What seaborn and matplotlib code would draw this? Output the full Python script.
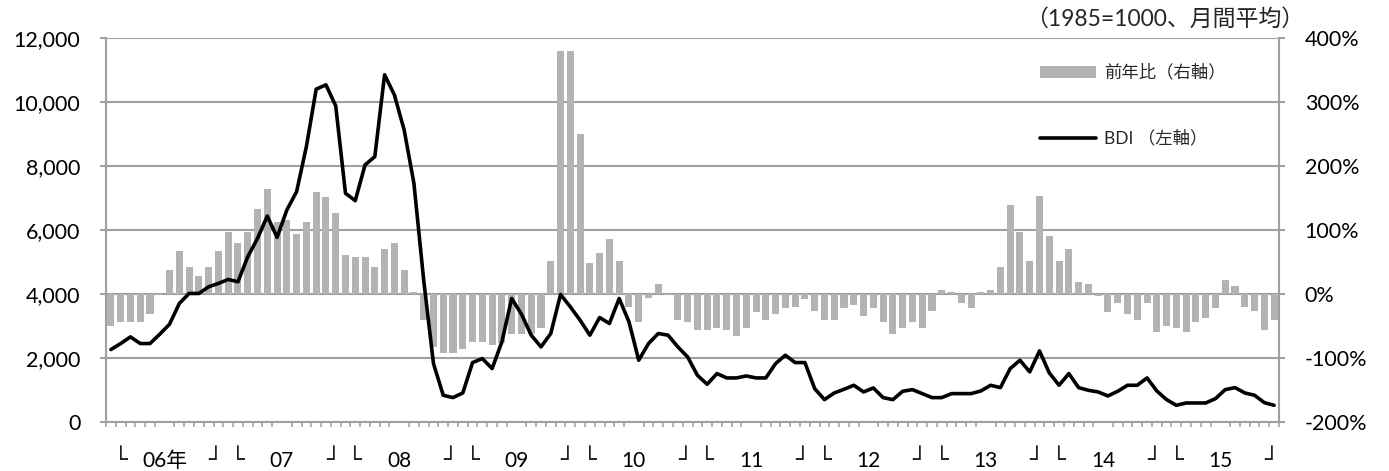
import numpy as np
import pandas as pd
import matplotlib
matplotlib.use("Agg")
import matplotlib.pyplot as plt
from matplotlib.patches import Patch
from matplotlib.lines import Line2D
import matplotlib.transforms as mtransforms
import seaborn as sns

# Monthly Baltic Dry Index (1985=1000, monthly average), Jan 2006 - Dec 2015
bdi = [2264, 2452, 2660, 2452, 2452, 2744, 3057, 3704, 4017, 4017, 4225, 4330,
       4455, 4382, 5164, 5738, 6437, 5769, 6625, 7199, 8607, 10401, 10537, 9880,
       7147, 6917, 8033, 8294, 10850, 10224, 9129, 7460, 4434, 1826, 835, 762,
       908, 1857, 1982, 1669, 2504, 3860, 3370, 2713, 2347, 2765, 3985, 3599,
       3182, 2713, 3265, 3078, 3860, 3130, 1930, 2452, 2765, 2713, 2347, 2034,
       1461, 1179, 1513, 1377, 1377, 1440, 1377, 1377, 1826, 2086, 1857, 1857,
       1043, 699, 908, 1022, 1148, 939, 1064, 762, 699, 960, 1012, 887,
       762, 762, 887, 887, 887, 970, 1148, 1075, 1669, 1930, 1565, 2222,
       1534, 1148, 1513, 1075, 991, 939, 814, 960, 1148, 1148, 1377, 970,
       699, 522, 595, 595, 595, 730, 1012, 1075, 908, 835, 605, 522]

# Year-on-year change (%)
yoy = [-49.6, -44.3, -44.3, -44.3, -31.8, -2.0, 37.6, 67.3, 42.8, 28.2, 42.8, 67.3,
       97.0, 79.3, 97.0, 133.0, 163.3, 112.2, 115.3, 94.4, 112.2, 160.1, 151.3, 127.3,
       61.0, 57.9, 57.9, 42.8, 69.9, 79.3, 37.6, 3.7, -40.7, -82.4, -91.8, -91.8,
       -86.1, -74.6, -74.6, -79.8, -77.2, -62.6, -62.6, -62.6, -52.7, 52.2, 380.3, 380.3,
       250.4, 49.0, 64.7, 85.6, 52.2, -19.8, -44.3, -6.8, 15.6, -2.0, -40.7, -44.3,
       -56.3, -56.3, -52.7, -56.3, -65.2, -52.7, -28.7, -40.7, -31.8, -22.4, -19.8, -7.3,
       -26.1, -40.7, -40.7, -22.4, -17.2, -34.4, -22.4, -44.3, -62.1, -52.7, -44.3, -52.7,
       -26.1, 6.3, 3.1, -13.6, -22.4, 3.1, 6.3, 42.8, 139.3, 97.0, 52.2, 153.9,
       90.8, 52.2, 69.9, 18.8, 15.6, -3.0, -28.7, -13.6, -31.8, -40.7, -13.6, -58.9,
       -49.6, -52.7, -58.9, -43.8, -37.6, -22.4, 21.9, 12.5, -19.8, -26.1, -56.3, -40.7]

year_labels = ["06年", "07", "08", "09", "10", "11", "12", "13", "14", "15"]
bdi_ticks = [0, 2000, 4000, 6000, 8000, 10000, 12000]
yoy_ticks = [-200, -100, 0, 100, 200, 300, 400]

legend_bar = "前年比（右軸）"
legend_line = "BDI （左軸）"
unit_note = "（1985=1000、月間平均）"

sns.set_style("white")
plt.rcParams["font.family"] = ["Lato", "Noto Sans CJK JP", "DejaVu Sans"]

months = np.arange(len(bdi))
df = pd.DataFrame({"month": months, "bdi": bdi, "yoy": yoy})

GRID = "#a0a0a0"
BAR = "#b3b3b3"

W, H = 1389, 471
fig = plt.figure(figsize=(W / 100, H / 100), dpi=100)
left, right, top, bottom = 106, 1279, 38, 422
ax = fig.add_axes([left / W, 1 - bottom / H, (right - left) / W, (bottom - top) / H])

# bars: year-on-year change on the right axis
sns.barplot(data=df, x="month", y="yoy", ax=ax, color=BAR, saturation=1,
            width=0.72, native_scale=True, edgecolor="none", zorder=2)
ax.set_xlim(-0.5, len(bdi) - 0.5)
ax.set_ylim(-200, 400)
ax.set_yticks(yoy_ticks)
ax.set_yticklabels([f"{v}%" for v in yoy_ticks])
ax.grid(axis="y", color=GRID, lw=1.5)
ax.set_axisbelow(True)
ax.set_xlabel("")
ax.set_ylabel("")

# line: BDI on the left axis
ax2 = ax.twinx()
sns.lineplot(data=df, x="month", y="bdi", ax=ax2, color="black", lw=2.6, zorder=3)
ax2.set_ylim(0, 12000)
ax2.set_yticks(bdi_ticks)
ax2.set_yticklabels([f"{v:,}" for v in bdi_ticks])
ax2.set_xlabel("")
ax2.set_ylabel("")
ax2.set_xlim(-0.5, len(bdi) - 0.5)

for a in (ax, ax2):
    for s in a.spines.values():
        s.set_visible(False)
for s in ("bottom", "left", "right"):
    ax.spines[s].set_visible(True)
    ax.spines[s].set_color(GRID)
    ax.spines[s].set_linewidth(1.5)

ax.tick_params(axis="y", which="both", left=False, right=True,
               labelleft=False, labelright=True, length=4.5,
               width=1.5, color=GRID, pad=14, labelsize=15.5, labelcolor="black")
ax2.tick_params(axis="y", which="both", left=True, right=False,
                labelleft=True, labelright=False, length=4.5,
                width=1.5, color=GRID, pad=14, labelsize=15.5, labelcolor="black")

# month boundary ticks, year labels in the middle of each year
ax.set_xticks(np.arange(-0.5, len(bdi), 1), minor=True)
ax.set_xticks(np.arange(5.5, len(bdi), 12))
ax.set_xticklabels(year_labels)
ax.tick_params(axis="x", which="minor", bottom=True, length=3.5, width=1.2,
               color=GRID, direction="out")
ax.tick_params(axis="x", which="major", bottom=True, length=0, pad=21,
               labelsize=15, labelcolor="black")
ax2.tick_params(axis="x", which="both", bottom=False, top=False,
                labelbottom=False)

# bracket marks around each year
trans = mtransforms.blended_transform_factory(ax.transData, ax.transAxes)
for k in range(len(year_labels)):
    start = 12 * k - 0.5
    end = start + 12
    ax.text(start + 0.7, -0.1, "└", transform=trans, ha="left", va="center",
            fontsize=16.5, family=["DejaVu Sans"], color="#222222", clip_on=False)
    ax.text(end - 0.1, -0.1, "┘", transform=trans, ha="right", va="center",
            fontsize=16.5, family=["DejaVu Sans"], color="#222222", clip_on=False)

handles = [Patch(facecolor=BAR, edgecolor="none"),
           Line2D([], [], color="black", lw=2.6)]
ax2.legend(handles, [legend_bar, legend_line], loc="upper left",
           bbox_to_anchor=(1040 / W, 1 - 64 / H), bbox_transform=fig.transFigure,
           frameon=False, fontsize=12.5, handlelength=3.2, handleheight=0.7,
           handletextpad=0.5, labelspacing=2.85, borderpad=0, borderaxespad=0)

fig.text(1304 / W, 1 - 19 / H, unit_note, ha="right", va="center", fontsize=16.5)

fig.savefig("out.png", dpi=100)
